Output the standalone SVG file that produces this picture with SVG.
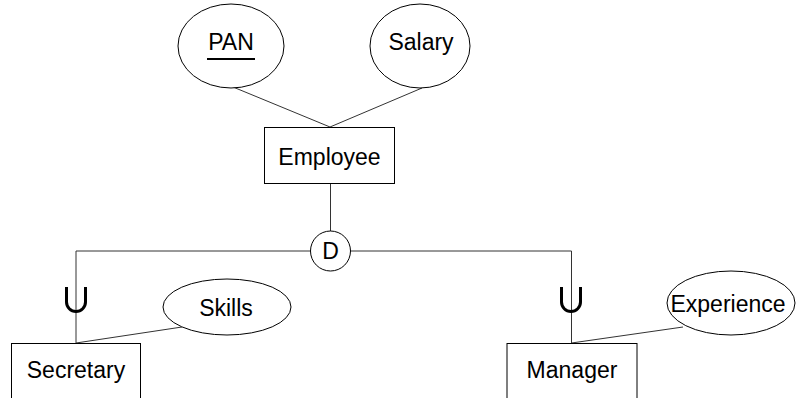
<svg xmlns="http://www.w3.org/2000/svg" width="796" height="398" viewBox="0 0 796 398">
  <style>
    .shape { fill: #ffffff; stroke: #000000; stroke-width: 1; }
    .link { fill: none; stroke: #333333; stroke-width: 1; }
    .subset { fill: none; stroke: #000000; stroke-width: 3; }
    .label { font-family: "Liberation Sans", Arial, sans-serif; font-size: 23px; fill: #000000; text-anchor: middle; }
  </style>

  <!-- connectors -->
  <g id="connectors">
    <line class="link" x1="233" y1="87" x2="330" y2="127"/>
    <line class="link" x1="422" y1="88" x2="330" y2="127"/>
    <line class="link" x1="330.5" y1="183" x2="330.5" y2="231"/>
    <polyline class="link" points="76,343 76,251 310.5,251"/>
    <polyline class="link" points="350.5,251 571.5,251 571.5,343"/>
    <line class="link" x1="76" y1="343" x2="182" y2="327"/>
    <line class="link" x1="571.5" y1="343" x2="683" y2="327"/>
    <!-- subset markers -->
    <path class="subset" d="M66.5,287 V302 A9.5,9.5 0 0 0 85.5,302 V287"/>
    <path class="subset" d="M561.5,287 V302 A9.5,9.5 0 0 0 580.5,302 V287"/>
  </g>

  <g id="pan">
    <ellipse class="shape" cx="231" cy="46" rx="53" ry="42"/>
    <text class="label" x="231" y="50">PAN</text>
    <line x1="207" y1="59" x2="255" y2="59" stroke="#000000" stroke-width="2"/>
  </g>

  <g id="salary">
    <ellipse class="shape" cx="420" cy="46" rx="50" ry="42"/>
    <text class="label" x="421" y="50">Salary</text>
  </g>

  <g id="employee">
    <rect class="shape" x="264.5" y="127.5" width="130" height="56"/>
    <text class="label" x="329.5" y="164.5">Employee</text>
  </g>

  <g id="disjoint">
    <circle class="shape" cx="330.5" cy="251" r="20"/>
    <text class="label" x="330.5" y="259">D</text>
  </g>

  <g id="skills">
    <ellipse class="shape" cx="227" cy="307" rx="64" ry="28"/>
    <text class="label" x="226" y="316">Skills</text>
  </g>

  <g id="secretary">
    <rect class="shape" x="11.5" y="343.5" width="129" height="70"/>
    <text class="label" x="76" y="378">Secretary</text>
  </g>

  <g id="experience">
    <ellipse class="shape" cx="731" cy="303" rx="64" ry="32"/>
    <text class="label" x="728" y="312">Experience</text>
  </g>

  <g id="manager">
    <rect class="shape" x="507" y="343.5" width="130" height="70"/>
    <text class="label" x="572" y="378">Manager</text>
  </g>
</svg>
